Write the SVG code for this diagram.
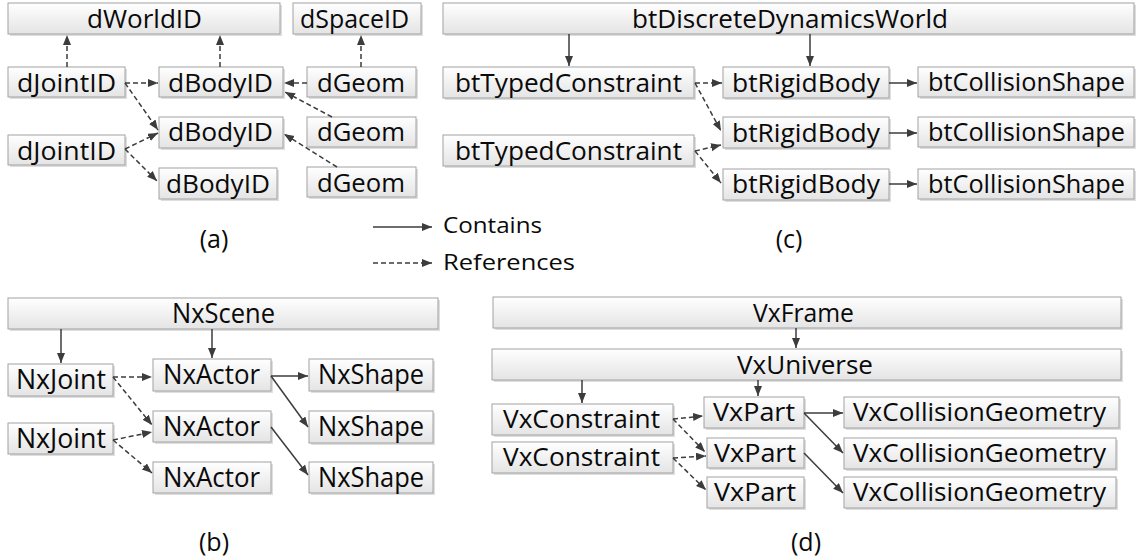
<svg xmlns="http://www.w3.org/2000/svg" width="1139" height="560" viewBox="0 0 1139 560">
  <defs>
    <linearGradient id="boxFill" x1="0" y1="0" x2="0" y2="1">
      <stop offset="0" stop-color="#ffffff"/>
      <stop offset="1" stop-color="#e4e4e4"/>
    </linearGradient>
    <marker id="head" markerUnits="userSpaceOnUse" markerWidth="11" markerHeight="9" refX="10" refY="4" orient="auto">
      <path d="M0,0 L10,4 L0,8 Z" fill="#3c3c3c"/>
    </marker>
  </defs>
  <style>
    .sh { fill: #000000; opacity: 0.13; }
    .b { fill: url(#boxFill); stroke: #a2a2a2; stroke-width: 1; }
    text { font-family: "Open Sans", "Liberation Sans", sans-serif; fill: #0a0a0a; }
    .fa { font-size: 26px; }
    .fb { font-size: 27.5px; }
    .fc { font-size: 25.5px; }
    .fd { font-size: 25.5px; }
    .leg { font-size: 22px; }
    .cap { font-size: 25px; text-anchor: middle; }
    .c { stroke: #3c3c3c; stroke-width: 1.5; fill: none; marker-end: url(#head); }
    .r { stroke: #3c3c3c; stroke-width: 1.5; fill: none; stroke-dasharray: 5 3; marker-end: url(#head); }
  </style>
  <rect width="1139" height="560" fill="#ffffff"/>

  <!-- (a) ODE -->
  <g id="a-dWorldID"><rect class="sh" x="10" y="5" width="272" height="31"/><rect class="b" x="8" y="3" width="272" height="31"/><text class="fa" x="87" y="27.5" textLength="115" lengthAdjust="spacingAndGlyphs">dWorldID</text></g>
  <g id="a-dSpaceID"><rect class="sh" x="295" y="5" width="128" height="31"/><rect class="b" x="293" y="3" width="128" height="31"/><text class="fa" x="300" y="27.5" textLength="109" lengthAdjust="spacingAndGlyphs">dSpaceID</text></g>
  <g id="a-dJointID-1"><rect class="sh" x="10" y="69" width="117" height="30"/><rect class="b" x="8" y="67" width="117" height="30"/><text class="fa" x="17" y="91.5" textLength="99" lengthAdjust="spacingAndGlyphs">dJointID</text></g>
  <g id="a-dJointID-2"><rect class="sh" x="10" y="137" width="117" height="30"/><rect class="b" x="8" y="135" width="117" height="30"/><text class="fa" x="17" y="159.5" textLength="99" lengthAdjust="spacingAndGlyphs">dJointID</text></g>
  <g id="a-dBodyID-1"><rect class="sh" x="161" y="69" width="124" height="30"/><rect class="b" x="159" y="67" width="124" height="30"/><text class="fa" x="168" y="91.5" textLength="105" lengthAdjust="spacingAndGlyphs">dBodyID</text></g>
  <g id="a-dBodyID-2"><rect class="sh" x="161" y="119" width="124" height="31"/><rect class="b" x="159" y="117" width="124" height="31"/><text class="fa" x="168" y="141" textLength="105" lengthAdjust="spacingAndGlyphs">dBodyID</text></g>
  <g id="a-dBodyID-3"><rect class="sh" x="161" y="170" width="118" height="31"/><rect class="b" x="159" y="168" width="118" height="31"/><text class="fa" x="166" y="192.5" textLength="104" lengthAdjust="spacingAndGlyphs">dBodyID</text></g>
  <g id="a-dGeom-1"><rect class="sh" x="309" y="69" width="109" height="30"/><rect class="b" x="307" y="67" width="109" height="30"/><text class="fa" x="317" y="91.5" textLength="88" lengthAdjust="spacingAndGlyphs">dGeom</text></g>
  <g id="a-dGeom-2"><rect class="sh" x="309" y="119" width="109" height="30"/><rect class="b" x="307" y="117" width="109" height="30"/><text class="fa" x="317" y="141" textLength="88" lengthAdjust="spacingAndGlyphs">dGeom</text></g>
  <g id="a-dGeom-3"><rect class="sh" x="309" y="169" width="109" height="30"/><rect class="b" x="307" y="167" width="109" height="30"/><text class="fa" x="317" y="191.5" textLength="88" lengthAdjust="spacingAndGlyphs">dGeom</text></g>

  <!-- (c) Bullet -->
  <g id="c-btDiscreteDynamicsWorld"><rect class="sh" x="445" y="5" width="691" height="31"/><rect class="b" x="443" y="3" width="691" height="31"/><text class="fc" x="632" y="27.5" textLength="316" lengthAdjust="spacingAndGlyphs">btDiscreteDynamicsWorld</text></g>
  <g id="c-btTypedConstraint-1"><rect class="sh" x="445" y="69" width="251" height="31"/><rect class="b" x="443" y="67" width="251" height="31"/><text class="fc" x="455" y="92" textLength="227" lengthAdjust="spacingAndGlyphs">btTypedConstraint</text></g>
  <g id="c-btTypedConstraint-2"><rect class="sh" x="445" y="137" width="251" height="31"/><rect class="b" x="443" y="135" width="251" height="31"/><text class="fc" x="455" y="160" textLength="227" lengthAdjust="spacingAndGlyphs">btTypedConstraint</text></g>
  <g id="c-btRigidBody-1"><rect class="sh" x="725" y="69" width="166" height="31"/><rect class="b" x="723" y="67" width="166" height="31"/><text class="fc" x="732" y="92" textLength="148" lengthAdjust="spacingAndGlyphs">btRigidBody</text></g>
  <g id="c-btRigidBody-2"><rect class="sh" x="725" y="119" width="166" height="31"/><rect class="b" x="723" y="117" width="166" height="31"/><text class="fc" x="732" y="141.5" textLength="148" lengthAdjust="spacingAndGlyphs">btRigidBody</text></g>
  <g id="c-btRigidBody-3"><rect class="sh" x="725" y="171" width="166" height="31"/><rect class="b" x="723" y="169" width="166" height="31"/><text class="fc" x="732" y="193" textLength="148" lengthAdjust="spacingAndGlyphs">btRigidBody</text></g>
  <g id="c-btCollisionShape-1"><rect class="sh" x="920" y="69" width="216" height="30"/><rect class="b" x="918" y="67" width="216" height="30"/><text class="fc" x="928" y="91" textLength="197" lengthAdjust="spacingAndGlyphs">btCollisionShape</text></g>
  <g id="c-btCollisionShape-2"><rect class="sh" x="920" y="119" width="216" height="30"/><rect class="b" x="918" y="117" width="216" height="30"/><text class="fc" x="928" y="141" textLength="197" lengthAdjust="spacingAndGlyphs">btCollisionShape</text></g>
  <g id="c-btCollisionShape-3"><rect class="sh" x="920" y="171" width="216" height="30"/><rect class="b" x="918" y="169" width="216" height="30"/><text class="fc" x="928" y="193" textLength="197" lengthAdjust="spacingAndGlyphs">btCollisionShape</text></g>

  <!-- (b) PhysX -->
  <g id="b-NxScene"><rect class="sh" x="10" y="300" width="430" height="31"/><rect class="b" x="8" y="298" width="430" height="31"/><text class="fb" x="172" y="322.5" textLength="103" lengthAdjust="spacingAndGlyphs">NxScene</text></g>
  <g id="b-NxJoint-1"><rect class="sh" x="10" y="366" width="105" height="32"/><rect class="b" x="8" y="364" width="105" height="32"/><text class="fb" x="16" y="388.5" textLength="90" lengthAdjust="spacingAndGlyphs">NxJoint</text></g>
  <g id="b-NxJoint-2"><rect class="sh" x="10" y="425" width="105" height="31"/><rect class="b" x="8" y="423" width="105" height="31"/><text class="fb" x="16" y="447.5" textLength="90" lengthAdjust="spacingAndGlyphs">NxJoint</text></g>
  <g id="b-NxActor-1"><rect class="sh" x="155" y="361" width="118" height="32"/><rect class="b" x="153" y="359" width="118" height="32"/><text class="fb" x="163" y="383.5" textLength="97" lengthAdjust="spacingAndGlyphs">NxActor</text></g>
  <g id="b-NxActor-2"><rect class="sh" x="155" y="413" width="118" height="31"/><rect class="b" x="153" y="411" width="118" height="31"/><text class="fb" x="163" y="435.5" textLength="97" lengthAdjust="spacingAndGlyphs">NxActor</text></g>
  <g id="b-NxActor-3"><rect class="sh" x="155" y="464" width="118" height="31"/><rect class="b" x="153" y="462" width="118" height="31"/><text class="fb" x="163" y="486.5" textLength="97" lengthAdjust="spacingAndGlyphs">NxActor</text></g>
  <g id="b-NxShape-1"><rect class="sh" x="311" y="361" width="124" height="32"/><rect class="b" x="309" y="359" width="124" height="32"/><text class="fb" x="318" y="383.5" textLength="106" lengthAdjust="spacingAndGlyphs">NxShape</text></g>
  <g id="b-NxShape-2"><rect class="sh" x="311" y="413" width="124" height="32"/><rect class="b" x="309" y="411" width="124" height="32"/><text class="fb" x="318" y="435.5" textLength="106" lengthAdjust="spacingAndGlyphs">NxShape</text></g>
  <g id="b-NxShape-3"><rect class="sh" x="311" y="464" width="124" height="31"/><rect class="b" x="309" y="462" width="124" height="31"/><text class="fb" x="318" y="486.5" textLength="106" lengthAdjust="spacingAndGlyphs">NxShape</text></g>

  <!-- (d) Vortex -->
  <g id="d-VxFrame"><rect class="sh" x="495" y="299" width="628" height="31"/><rect class="b" x="493" y="297" width="628" height="31"/><text class="fd" x="753" y="322" textLength="101" lengthAdjust="spacingAndGlyphs">VxFrame</text></g>
  <g id="d-VxUniverse"><rect class="sh" x="494" y="351" width="629" height="31"/><rect class="b" x="492" y="349" width="629" height="31"/><text class="fd" x="737" y="374" textLength="136" lengthAdjust="spacingAndGlyphs">VxUniverse</text></g>
  <g id="d-VxConstraint-1"><rect class="sh" x="494" y="406" width="181" height="31"/><rect class="b" x="492" y="404" width="181" height="31"/><text class="fd" x="503" y="428" textLength="157" lengthAdjust="spacingAndGlyphs">VxConstraint</text></g>
  <g id="d-VxConstraint-2"><rect class="sh" x="494" y="444" width="181" height="31"/><rect class="b" x="492" y="442" width="181" height="31"/><text class="fd" x="503" y="466" textLength="157" lengthAdjust="spacingAndGlyphs">VxConstraint</text></g>
  <g id="d-VxPart-1"><rect class="sh" x="706" y="399" width="100" height="31"/><rect class="b" x="704" y="397" width="100" height="31"/><text class="fd" x="713" y="421" textLength="82" lengthAdjust="spacingAndGlyphs">VxPart</text></g>
  <g id="d-VxPart-2"><rect class="sh" x="709" y="440" width="97" height="30"/><rect class="b" x="707" y="438" width="97" height="30"/><text class="fd" x="714" y="461.5" textLength="82" lengthAdjust="spacingAndGlyphs">VxPart</text></g>
  <g id="d-VxPart-3"><rect class="sh" x="709" y="479" width="97" height="31"/><rect class="b" x="707" y="477" width="97" height="31"/><text class="fd" x="714" y="501" textLength="82" lengthAdjust="spacingAndGlyphs">VxPart</text></g>
  <g id="d-VxCollisionGeometry-1"><rect class="sh" x="846" y="399" width="275" height="31"/><rect class="b" x="844" y="397" width="275" height="31"/><text class="fd" x="853" y="421" textLength="253" lengthAdjust="spacingAndGlyphs">VxCollisionGeometry</text></g>
  <g id="d-VxCollisionGeometry-2"><rect class="sh" x="846" y="440" width="272" height="31"/><rect class="b" x="844" y="438" width="272" height="31"/><text class="fd" x="853" y="462" textLength="253" lengthAdjust="spacingAndGlyphs">VxCollisionGeometry</text></g>
  <g id="d-VxCollisionGeometry-3"><rect class="sh" x="846" y="479" width="272" height="31"/><rect class="b" x="844" y="477" width="272" height="31"/><text class="fd" x="853" y="501" textLength="253" lengthAdjust="spacingAndGlyphs">VxCollisionGeometry</text></g>

  <!-- connectors: solid = contains, dashed = references -->
  <g id="connectors">
    <line class="r" x1="67" y1="67" x2="67" y2="35"/>
    <line class="r" x1="220" y1="67" x2="220" y2="35"/>
    <line class="r" x1="361" y1="67" x2="361" y2="35"/>
    <line class="r" x1="125" y1="83" x2="158" y2="83"/>
    <line class="r" x1="307" y1="83" x2="284" y2="83"/>
    <line class="r" x1="332" y1="117" x2="285" y2="92"/>
    <line class="r" x1="337" y1="167" x2="284" y2="134"/>
    <line class="r" x1="125" y1="83" x2="158" y2="130"/>
    <line class="r" x1="125" y1="149" x2="158" y2="133"/>
    <line class="r" x1="125" y1="149" x2="157" y2="181"/>

    <line class="c" x1="569" y1="34" x2="569" y2="66"/>
    <line class="c" x1="810" y1="34" x2="810" y2="66"/>
    <line class="r" x1="695" y1="83" x2="722" y2="83"/>
    <line class="r" x1="695" y1="83" x2="721" y2="131"/>
    <line class="r" x1="695" y1="151" x2="721" y2="145"/>
    <line class="r" x1="695" y1="151" x2="721" y2="183"/>
    <line class="c" x1="889" y1="83" x2="917" y2="83"/>
    <line class="c" x1="889" y1="133" x2="917" y2="133"/>
    <line class="c" x1="889" y1="184" x2="917" y2="184"/>

    <line class="c" x1="61" y1="329" x2="61" y2="363"/>
    <line class="c" x1="212" y1="329" x2="212" y2="358"/>
    <line class="r" x1="113" y1="377" x2="152" y2="377"/>
    <line class="r" x1="113" y1="377" x2="152" y2="425"/>
    <line class="r" x1="113" y1="440" x2="152" y2="432"/>
    <line class="r" x1="113" y1="440" x2="152" y2="473"/>
    <line class="c" x1="271" y1="376" x2="308" y2="376"/>
    <line class="c" x1="271" y1="376" x2="308" y2="427"/>
    <line class="c" x1="271" y1="427" x2="308" y2="475"/>

    <line class="c" x1="796" y1="328" x2="796" y2="348"/>
    <line class="c" x1="582" y1="380" x2="582" y2="403"/>
    <line class="c" x1="758" y1="380" x2="758" y2="396"/>
    <line class="r" x1="673" y1="419" x2="703" y2="416"/>
    <line class="r" x1="673" y1="419" x2="705" y2="452"/>
    <line class="r" x1="673" y1="458" x2="706" y2="456"/>
    <line class="r" x1="673" y1="458" x2="706" y2="490"/>
    <line class="c" x1="804" y1="413" x2="843" y2="413"/>
    <line class="c" x1="804" y1="413" x2="843" y2="453"/>
    <line class="c" x1="804" y1="453" x2="843" y2="493"/>

    <line class="c" x1="373" y1="227" x2="432" y2="227"/>
    <line class="r" x1="373" y1="263" x2="432" y2="263"/>
  </g>

  <!-- legend and panel captions -->
  <g id="legend">
    <text class="leg" x="443" y="233" textLength="99" lengthAdjust="spacingAndGlyphs">Contains</text>
    <text class="leg" x="443" y="270" textLength="132" lengthAdjust="spacingAndGlyphs">References</text>
  </g>
  <g id="captions">
    <text class="cap" x="214" y="248">(a)</text>
    <text class="cap" x="789" y="248">(c)</text>
    <text class="cap" x="214" y="551">(b)</text>
    <text class="cap" x="806" y="551">(d)</text>
  </g>
</svg>
